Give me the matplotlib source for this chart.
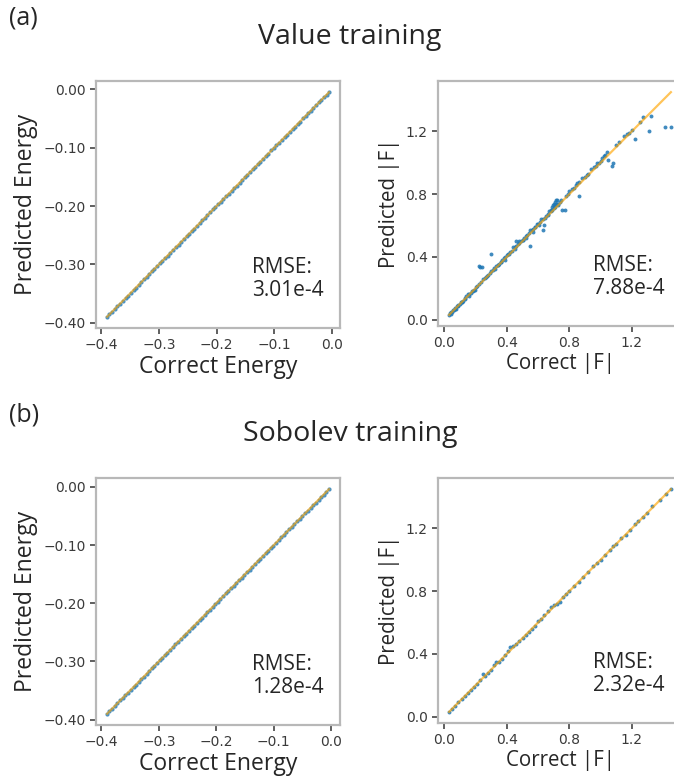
import matplotlib
matplotlib.use("Agg")
import matplotlib.pyplot as plt
from matplotlib.ticker import FuncFormatter

# ---------------- data ----------------
energy_correct_value = [-0.390, -0.386, -0.381, -0.377, -0.372, -0.368, -0.363, -0.358, -0.354, -0.349,
                        -0.344, -0.340, -0.335, -0.331, -0.326, -0.321, -0.317, -0.312, -0.308, -0.303,
                        -0.298, -0.294, -0.289, -0.285, -0.280, -0.275, -0.271, -0.266, -0.262, -0.257,
                        -0.252, -0.248, -0.243, -0.239, -0.234, -0.229, -0.225, -0.220, -0.216, -0.211,
                        -0.206, -0.202, -0.197, -0.193, -0.188, -0.183, -0.179, -0.174, -0.170, -0.165,
                        -0.160, -0.156, -0.151, -0.147, -0.142, -0.137, -0.133, -0.128, -0.124, -0.119,
                        -0.114, -0.110, -0.105, -0.101, -0.096, -0.091, -0.087, -0.082, -0.078, -0.073,
                        -0.068, -0.064, -0.059, -0.055, -0.050, -0.045, -0.041, -0.036, -0.032, -0.027,
                        -0.022, -0.018, -0.013, -0.009, -0.005]
energy_pred_value = [-0.3896, -0.3858, -0.3812, -0.3768, -0.3717, -0.3682, -0.3628, -0.3583, -0.3537, -0.3491,
                     -0.3437, -0.3402, -0.3348, -0.3312, -0.3257, -0.3213, -0.3167, -0.3121, -0.3077, -0.3032,
                     -0.2978, -0.2942, -0.2887, -0.2852, -0.2798, -0.2752, -0.2708, -0.2662, -0.2617, -0.2571,
                     -0.2518, -0.2482, -0.2428, -0.2391, -0.2337, -0.2292, -0.2248, -0.2202, -0.2157, -0.2111,
                     -0.2058, -0.2022, -0.1968, -0.1932, -0.1877, -0.1832, -0.1788, -0.1742, -0.1697, -0.1651,
                     -0.1597, -0.1562, -0.1508, -0.1471, -0.1417, -0.1372, -0.1328, -0.1282, -0.1238, -0.1191,
                     -0.1137, -0.1102, -0.1047, -0.1012, -0.0956, -0.0912, -0.0867, -0.0822, -0.0777, -0.0731,
                     -0.0678, -0.0641, -0.0588, -0.0553, -0.0497, -0.0452, -0.0408, -0.0362, -0.0317, -0.0271,
                     -0.0218, -0.0181, -0.0127, -0.0092, -0.0048]
energy_correct_sobolev = [-0.390, -0.386, -0.381, -0.377, -0.372, -0.367, -0.363, -0.358, -0.354, -0.349,
                          -0.344, -0.340, -0.335, -0.331, -0.326, -0.321, -0.317, -0.312, -0.308, -0.303,
                          -0.298, -0.294, -0.289, -0.285, -0.280, -0.275, -0.271, -0.266, -0.262, -0.257,
                          -0.252, -0.248, -0.243, -0.239, -0.234, -0.229, -0.225, -0.220, -0.216, -0.211,
                          -0.206, -0.202, -0.197, -0.193, -0.188, -0.183, -0.179, -0.174, -0.170, -0.165,
                          -0.160, -0.156, -0.151, -0.147, -0.142, -0.137, -0.133, -0.128, -0.124, -0.119,
                          -0.114, -0.110, -0.105, -0.101, -0.096, -0.091, -0.087, -0.082, -0.078, -0.073,
                          -0.068, -0.064, -0.059, -0.055, -0.050, -0.045, -0.041, -0.036, -0.032, -0.027,
                          -0.022, -0.018, -0.013, -0.009, -0.004]
energy_pred_sobolev = [-0.3899, -0.3859, -0.3811, -0.3769, -0.3719, -0.3671, -0.3629, -0.3581, -0.3539, -0.3491,
                       -0.3441, -0.3399, -0.3351, -0.3309, -0.3261, -0.3211, -0.3169, -0.3121, -0.3079, -0.3031,
                       -0.2981, -0.2939, -0.2891, -0.2849, -0.2801, -0.2751, -0.2709, -0.2661, -0.2619, -0.2571,
                       -0.2521, -0.2479, -0.2431, -0.2389, -0.2341, -0.2291, -0.2249, -0.2201, -0.2159, -0.2111,
                       -0.2061, -0.2019, -0.1971, -0.1929, -0.1881, -0.1831, -0.1789, -0.1741, -0.1699, -0.1651,
                       -0.1601, -0.1559, -0.1511, -0.1469, -0.1421, -0.1371, -0.1329, -0.1281, -0.1239, -0.1191,
                       -0.1141, -0.1099, -0.1051, -0.1009, -0.0961, -0.0911, -0.0869, -0.0821, -0.0779, -0.0731,
                       -0.0681, -0.0639, -0.0591, -0.0549, -0.0501, -0.0451, -0.0409, -0.0361, -0.0319, -0.0271,
                       -0.0221, -0.0179, -0.0131, -0.0089, -0.0041]

force_correct_value = [0.030, 0.035, 0.040, 0.045, 0.050, 0.055, 0.060, 0.065, 0.070, 0.075, 0.080, 0.085,
                       0.090, 0.100, 0.105, 0.110, 0.120, 0.130, 0.140, 0.150, 0.155, 0.160, 0.170, 0.180,
                       0.190, 0.200, 0.210, 0.220, 0.220, 0.240, 0.250, 0.260, 0.270, 0.280, 0.290, 0.300,
                       0.300, 0.310, 0.320, 0.330, 0.340, 0.350, 0.360, 0.370, 0.380, 0.390, 0.400, 0.410,
                       0.420, 0.430, 0.440, 0.450, 0.460, 0.460, 0.470, 0.480, 0.490, 0.500, 0.510, 0.520,
                       0.530, 0.540, 0.550, 0.550, 0.560, 0.570, 0.580, 0.590, 0.600, 0.610, 0.620, 0.630,
                       0.630, 0.640, 0.650, 0.660, 0.670, 0.680, 0.690, 0.700, 0.700, 0.710, 0.710, 0.720,
                       0.720, 0.730, 0.740, 0.750, 0.770, 0.780, 0.800, 0.820, 0.840, 0.860, 0.860, 0.880,
                       0.900, 0.920, 0.940, 0.960, 0.980, 1.000, 1.010, 1.030, 1.040, 1.050, 1.070, 1.080,
                       1.100, 1.120, 1.150, 1.180, 1.200, 1.220, 1.250, 1.270, 1.310, 1.320, 1.410, 1.450,
                       0.115, 0.135, 0.175, 0.195, 0.235, 0.265, 0.325, 0.345, 0.385, 0.415, 0.455, 0.505,
                       0.525, 0.565, 0.605, 0.645, 0.685, 0.695, 0.705, 0.725, 0.790, 0.830, 0.910, 0.970,
                       0.230, 0.360, 0.480, 0.580, 0.660, 0.690, 0.715, 0.745, 0.850, 0.990, 1.020, 1.170]
force_pred_value = [0.030, 0.040, 0.035, 0.050, 0.050, 0.060, 0.060, 0.065, 0.075, 0.070, 0.085, 0.085,
                    0.090, 0.100, 0.110, 0.115, 0.120, 0.135, 0.150, 0.160, 0.150, 0.165, 0.170, 0.185,
                    0.190, 0.210, 0.215, 0.225, 0.340, 0.335, 0.260, 0.265, 0.280, 0.285, 0.300, 0.310,
                    0.420, 0.315, 0.330, 0.340, 0.350, 0.355, 0.370, 0.380, 0.390, 0.400, 0.410, 0.420,
                    0.430, 0.440, 0.460, 0.460, 0.470, 0.500, 0.480, 0.490, 0.500, 0.510, 0.520, 0.530,
                    0.540, 0.550, 0.470, 0.570, 0.570, 0.580, 0.590, 0.610, 0.610, 0.620, 0.640, 0.640,
                    0.570, 0.600, 0.660, 0.670, 0.690, 0.700, 0.720, 0.740, 0.710, 0.750, 0.730, 0.740,
                    0.760, 0.740, 0.750, 0.700, 0.700, 0.790, 0.820, 0.830, 0.860, 0.790, 0.880, 0.900,
                    0.910, 0.930, 0.960, 0.970, 1.000, 1.010, 1.030, 1.050, 1.070, 1.020, 0.980, 1.000,
                    1.110, 1.130, 1.170, 1.190, 1.210, 1.150, 1.260, 1.290, 1.200, 1.300, 1.230, 1.230,
                    0.110, 0.130, 0.180, 0.190, 0.240, 0.270, 0.320, 0.350, 0.380, 0.420, 0.450, 0.510,
                    0.520, 0.560, 0.600, 0.650, 0.690, 0.730, 0.720, 0.730, 0.800, 0.840, 0.920, 0.980,
                    0.335, 0.370, 0.500, 0.590, 0.665, 0.700, 0.760, 0.760, 0.870, 1.000, 1.040, 1.180]

force_correct_sobolev = [0.030, 0.050, 0.070, 0.090, 0.110, 0.130, 0.150, 0.170, 0.190, 0.210, 0.230, 0.245,
                         0.260, 0.280, 0.300, 0.320, 0.330, 0.350, 0.370, 0.390, 0.410, 0.420, 0.440, 0.460,
                         0.480, 0.500, 0.520, 0.540, 0.560, 0.580, 0.600, 0.620, 0.640, 0.660, 0.680, 0.700,
                         0.720, 0.740, 0.760, 0.780, 0.800, 0.830, 0.860, 0.890, 0.920, 0.950, 0.980, 1.000,
                         1.030, 1.060, 1.080, 1.100, 1.130, 1.160, 1.190, 1.220, 1.240, 1.270, 1.300, 1.330,
                         1.380, 1.420, 1.450]
force_pred_sobolev = [0.030, 0.050, 0.070, 0.090, 0.110, 0.130, 0.150, 0.170, 0.190, 0.210, 0.230, 0.270,
                      0.260, 0.280, 0.300, 0.330, 0.345, 0.350, 0.370, 0.390, 0.420, 0.445, 0.450, 0.460,
                      0.480, 0.500, 0.520, 0.540, 0.560, 0.580, 0.610, 0.620, 0.650, 0.670, 0.700, 0.710,
                      0.720, 0.730, 0.760, 0.780, 0.800, 0.830, 0.860, 0.890, 0.920, 0.960, 0.980, 1.000,
                      1.030, 1.060, 1.090, 1.100, 1.140, 1.160, 1.190, 1.230, 1.250, 1.270, 1.300, 1.340,
                      1.380, 1.420, 1.450]

rmse_labels = ["3.01e-4", "7.88e-4", "1.28e-4", "2.32e-4"]
row_titles = ["Value training", "Sobolev training"]
row_tags = ["(a)", "(b)"]
energy_xticks = [-0.4, -0.3, -0.2, -0.1, 0.0]
energy_yticks = [-0.40, -0.30, -0.20, -0.10, 0.00]
force_ticks = [0.0, 0.4, 0.8, 1.2]

# ---------------- styling ----------------
LABEL_FONT = ["Open Sans", "DejaVu Sans"]
TEXT_C = "#262626"
SPINE_C = "#b8b8b8"
BLUE = "#1f77b4"
ORANGE = "#ffa500"

fig = plt.figure(figsize=(6.74, 7.80), dpi=100)
W, H = 674.0, 780.0


def add_axes_px(left, top, width, height):
    return fig.add_axes([left / W, 1 - (top + height) / H, width / W, height / H])


def minus_fmt(fmt):
    return FuncFormatter(lambda v, p: (fmt % v).replace("-", "\u2212") if abs(v) > 1e-12 else fmt % 0.0)


def style(ax):
    for s in ax.spines.values():
        s.set_color(SPINE_C)
        s.set_linewidth(1.6)
    ax.tick_params(colors="#444444", labelcolor="#3a3a3a", labelsize=10, width=1.2, length=4)


row_offsets = [0, 397]
for r in range(2):
    off = row_offsets[r]
    if r == 0:
        ex, ey, fx, fy = energy_correct_value, energy_pred_value, force_correct_value, force_pred_value
    else:
        ex, ey, fx, fy = energy_correct_sobolev, energy_pred_sobolev, force_correct_sobolev, force_pred_sobolev

    # energy panel
    ax1 = add_axes_px(96, 81 + off, 244, 247)
    ax1.scatter(ex, ey, s=9, color=BLUE, alpha=0.8, linewidths=0, zorder=2)
    lo, hi = min(ex), max(ex)
    ax1.plot([lo, hi], [lo, hi], color=ORANGE, lw=1.6, alpha=0.6, zorder=3)
    ax1.set_xticks(energy_xticks)
    ax1.set_yticks(energy_yticks)
    ax1.xaxis.set_major_formatter(minus_fmt("%.1f"))
    ax1.yaxis.set_major_formatter(minus_fmt("%.2f"))
    ax1.set_xlabel("Correct Energy", fontsize=16.5, family=LABEL_FONT, color=TEXT_C, labelpad=2)
    ax1.set_ylabel("Predicted Energy", fontsize=16.5, family=LABEL_FONT, color=TEXT_C, labelpad=4)
    ax1.text(0.64, 0.11, "RMSE:\n" + rmse_labels[2 * r], transform=ax1.transAxes, ha="left", va="bottom",
             fontsize=15, family=LABEL_FONT, color=TEXT_C, linespacing=1.1)
    style(ax1)

    # force panel
    ax2 = add_axes_px(438, 81 + off, 244, 245)
    ax2.scatter(fx, fy, s=8, color=BLUE, alpha=0.85, linewidths=0, zorder=2)
    lo, hi = min(fx), max(fx)
    ax2.plot([lo, hi], [lo, hi], color=ORANGE, lw=1.6, alpha=0.65, zorder=3)
    ax2.set_xticks(force_ticks)
    ax2.set_yticks(force_ticks)
    ax2.xaxis.set_major_formatter(minus_fmt("%.1f"))
    ax2.yaxis.set_major_formatter(minus_fmt("%.1f"))
    ax2.set_xlabel("Correct |F|", fontsize=14.8, family=LABEL_FONT, color=TEXT_C, labelpad=2)
    ax2.set_ylabel("Predicted |F|", fontsize=14.8, family=LABEL_FONT, color=TEXT_C, labelpad=4)
    ax2.text(0.635, 0.11, "RMSE:\n" + rmse_labels[2 * r + 1], transform=ax2.transAxes, ha="left", va="bottom",
             fontsize=15, family=LABEL_FONT, color=TEXT_C, linespacing=1.1)
    style(ax2)

    fig.text(350 / W, 1 - (37 + off) / H, row_titles[r], ha="center", va="center",
             fontsize=20.5, family=LABEL_FONT, color=TEXT_C)
    fig.text(9 / W, 1 - (18 + off) / H, row_tags[r], ha="left", va="center",
             fontsize=18, family=LABEL_FONT, color=TEXT_C)

fig.savefig("out.png", dpi=100, facecolor="white")
